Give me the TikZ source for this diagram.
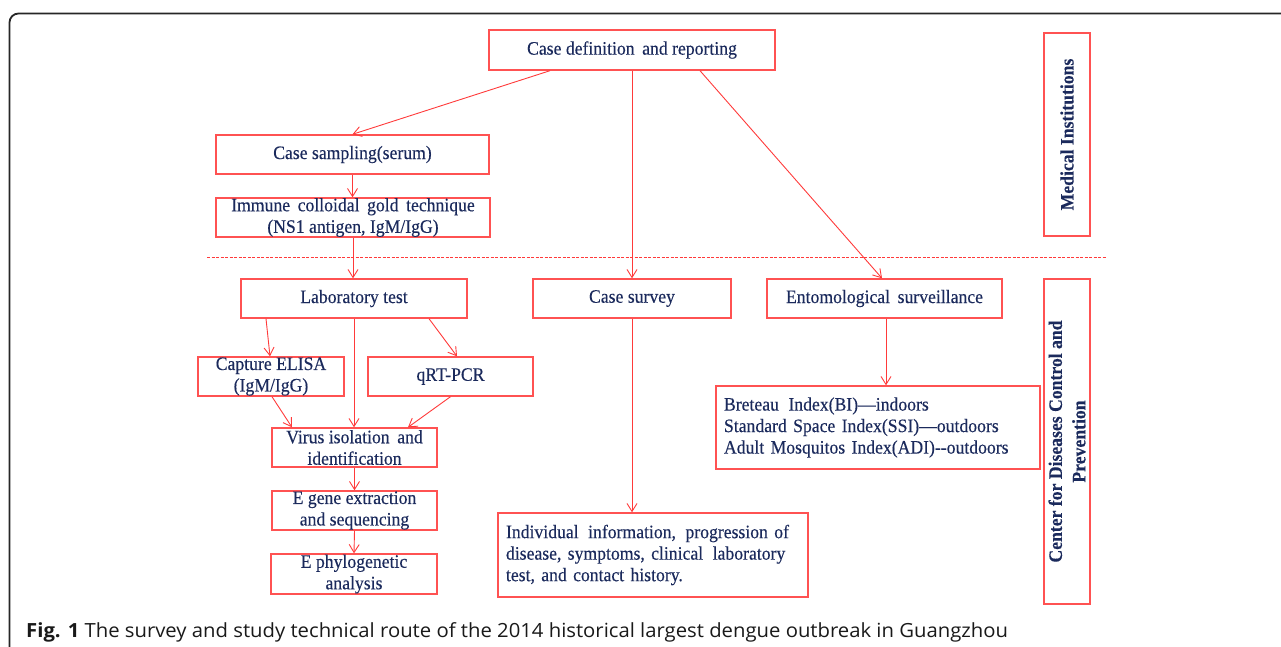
\documentclass[tikz,border=0pt]{standalone}
\usepackage{fontspec}
\usetikzlibrary{arrows.meta,calc}
\newfontfamily\boxfont{Liberation Serif}[FakeStretch=0.93,FakeBold=0.3]
\newfontfamily\capfont{Open Sans}[FakeStretch=1.04]
\definecolor{navy}{HTML}{1B2A5C}
\definecolor{boxred}{HTML}{FF5252}
\definecolor{arrred}{HTML}{FF3A3A}
\tikzset{
  box/.style={draw=boxred, line width=1.4pt, text=navy, align=center, inner sep=0pt,
    font=\boxfont\fontsize{19}{21.5}\selectfont},
  sidebox/.style={draw=boxred, line width=1.4pt, text=navy, align=center, inner sep=0pt,
    font=\boxfont\bfseries\fontsize{19}{23.5}\selectfont},
  conn/.style={draw=arrred, line width=0.9pt, -{Straight Barb[length=8pt,width=10pt,line width=0.9pt]}},
  sep/.style={draw=arrred, line width=1.6pt, dash pattern=on 3pt off 1.5pt},
  frame/.style={draw=black!85, line width=1.8pt, rounded corners=9pt}
}
\begin{document}
\begin{tikzpicture}[x=1pt,y=-1pt]
\useasboundingbox (0,0) rectangle (1281,647);
% outer frame
\coordinate (fa) at (9.5,647);
\coordinate (fb) at (1281,13.5);
\draw[frame] (fa) |- (fb);
% separator
\coordinate (sa) at (207,257.5);
\coordinate (sb) at (1106,257.5);
\draw[sep] (sa) -- (sb);
% boxes
\node[box, minimum width=286pt, minimum height=40pt] (def) at (632,50) {Case definition\, and reporting};
\node[box, minimum width=273pt, minimum height=39pt] (samp) at (352.5,154.5) {Case sampling(serum)};
\node[box, minimum width=274pt, minimum height=39pt] (imm) at (353,217.5) {Immune\, colloidal\, gold\, technique\\(NS1 antigen, IgM/IgG)};
\node[box, minimum width=226pt, minimum height=39pt] (lab) at (354,298.5) {Laboratory test};
\node[box, minimum width=198pt, minimum height=39pt] (surv) at (632,298.5) {Case survey};
\node[box, minimum width=235pt, minimum height=39pt] (ento) at (884.5,298.5) {Entomological\, surveillance};
\node[box, minimum width=146pt, minimum height=39pt] (elisa) at (271,376.5) {Capture ELISA\\(IgM/IgG)};
\node[box, minimum width=165pt, minimum height=39pt] (qrt) at (450.5,376.5) {qRT-PCR};
\node[box, minimum width=165pt, minimum height=39pt] (virus) at (354.5,447.5) {Virus isolation\, and\\identification};
\node[box, minimum width=165pt, minimum height=39pt] (egene) at (354.5,510.5) {E gene extraction\\and sequencing};
\node[box, minimum width=166pt, minimum height=40pt] (phylo) at (354,574) {E phylogenetic\\analysis};
\node[box, minimum width=324pt, minimum height=83pt, text width=308pt, align=left] (bi) at (878,427.5)
  {Breteau\, Index(BI)—indoors\\Standard Space Index(SSI)—outdoors\\Adult Mosquitos Index(ADI)-{}-outdoors};
\node[box, minimum width=310pt, minimum height=84pt, text width=294pt, align=left] (indiv) at (653,555)
  {Individual\, information,\, progression of\\disease, symptoms, clinical\, laboratory\\test, and contact history.};
\node[sidebox, minimum width=203pt, minimum height=46pt, rotate=90] (med) at (1067,134.5) {Medical Institutions};
\node[sidebox, minimum width=325pt, minimum height=46pt, rotate=90] (cdc) at (1067,441.5) {Center for Diseases Control and\\Prevention};
% connectors
\draw[conn] ([xshift=-82pt]def.south) -- (samp.north);
\draw[conn] (def.south) -- (surv.north);
\draw[conn] ([xshift=68pt]def.south) -- ([xshift=-2.5pt]ento.north);
\draw[conn] (samp.south) -- (samp.south |- imm.north);
\draw[conn] (imm.south) -- (imm.south |- lab.north);
\draw[conn] ([xshift=-88pt]lab.south) -- ([xshift=-1pt]elisa.north);
\draw[conn] (lab.south) -- (lab.south |- virus.north);
\draw[conn] ([xshift=75pt]lab.south) -- ([xshift=6.5pt]qrt.north);
\draw[conn] ([xshift=1pt]elisa.south) -- ([xshift=-62.5pt]virus.north);
\draw[conn] (qrt.south) -- ([xshift=53.5pt]virus.north);
\draw[conn] (virus.south) -- (egene.north);
\draw[conn] (egene.south) -- (phylo.north);
\draw[conn] (surv.south) -- (surv.south |- indiv.north);
\draw[conn] ([xshift=1.5pt]ento.south) -- ([xshift=1.5pt]ento.south |- bi.north);
% caption
\node[anchor=base west, inner sep=0pt, text=black!90, font=\capfont\fontsize{19.5}{24}\selectfont] (cap) at (26,637)
  {\textbf{Fig. 1} The survey and study technical route of the 2014 historical largest dengue outbreak in Guangzhou};
\end{tikzpicture}
\end{document}
